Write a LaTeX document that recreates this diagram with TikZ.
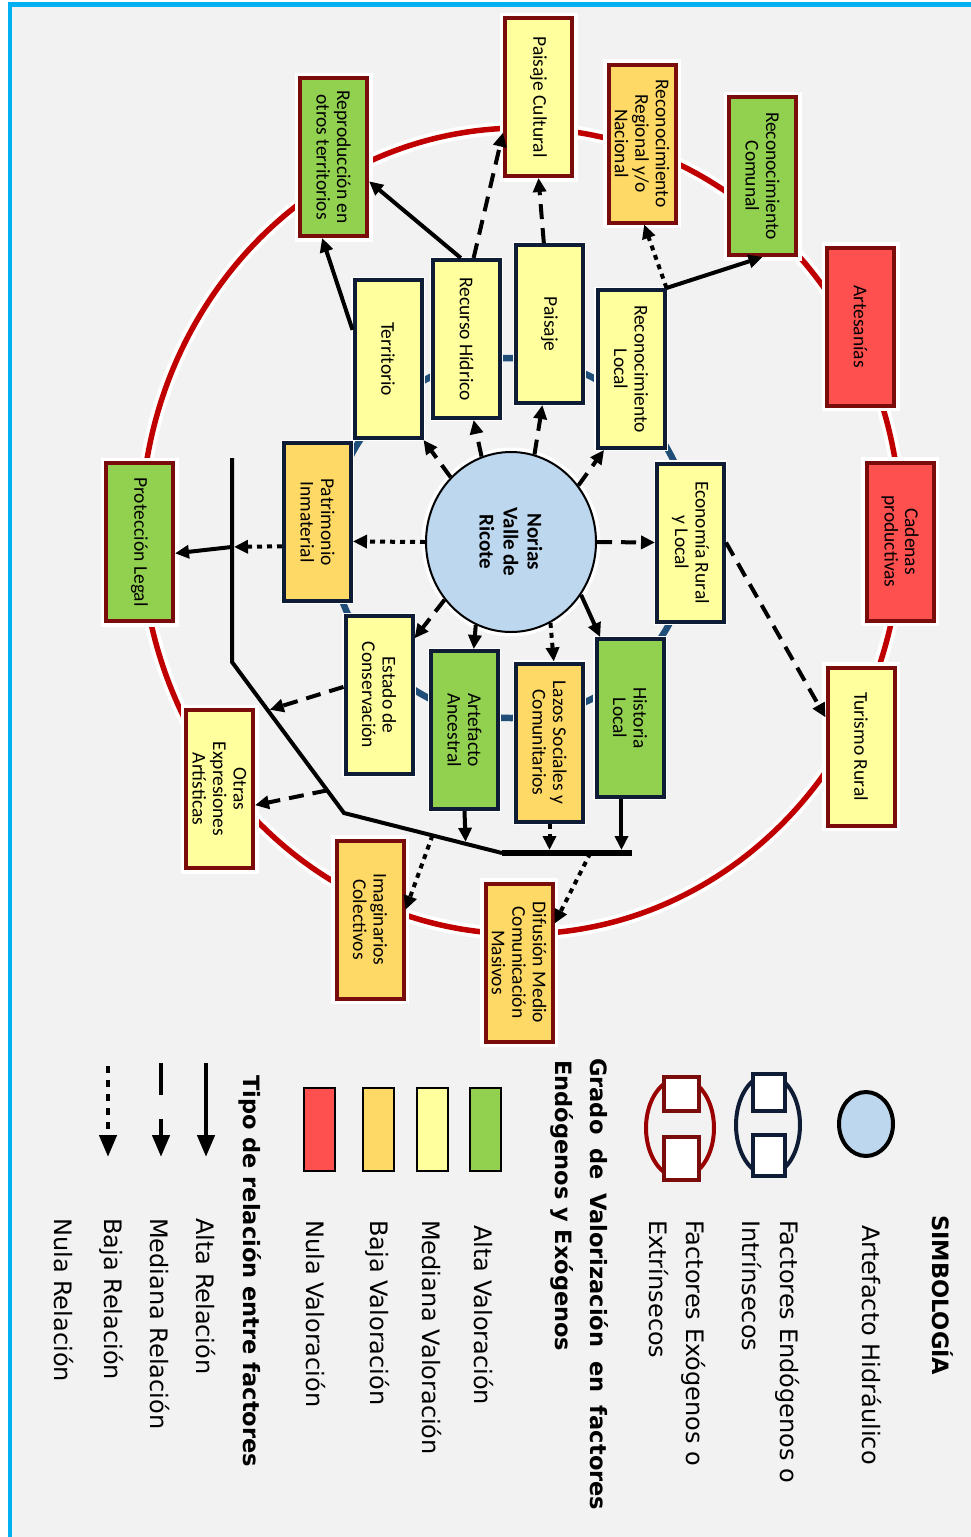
\documentclass[tikz,border=0pt]{standalone}
\usepackage{fontspec}
\setmainfont{DejaVu Sans}
\newfontfamily\cajafont{Carlito}
\usetikzlibrary{arrows.meta,positioning,calc,shapes.geometric}
\definecolor{ringRed}{HTML}{C00000}
\definecolor{boxMaroon}{HTML}{7A0C0C}
\definecolor{boxNavy}{HTML}{0F1C36}
\definecolor{ringNavy}{HTML}{1F4E79}
\definecolor{valAlta}{HTML}{92D050}
\definecolor{valMedia}{HTML}{FFFF9E}
\definecolor{valBaja}{HTML}{FFD966}
\definecolor{valNula}{HTML}{FF5050}
\definecolor{noriaBlue}{HTML}{BDD7EE}
\definecolor{frameBlue}{HTML}{00B0F0}
\definecolor{bgGray}{HTML}{F2F2F2}

\begin{document}
\begin{tikzpicture}[x=1pt,y=-1pt,
    factor/.style={rectangle, rotate=-90, minimum width=158pt, minimum height=67pt,
      inner sep=1pt, align=center, line width=4pt,
      font=\cajafont\fontsize{19.5}{20.5}\selectfont},
    endo/.style={factor, draw=boxNavy, preaction={draw=white, line width=6.5pt}},
    exo/.style={factor, draw=boxMaroon, preaction={draw=white, line width=11pt}},
    alta/.style={line width=4pt, -{Triangle[length=14pt,width=13pt]}},
    mediana/.style={alta, dash pattern=on 15pt off 9pt},
    baja/.style={alta, dash pattern=on 5pt off 5pt},
    leyenda/.style={rotate=-90, anchor=base west, inner sep=0pt,
      font=\fontsize{24}{28}\selectfont},
    leyendab/.style={leyenda, font=\bfseries\fontsize{22.5}{27}\selectfont},
    leyflecha/.style={line width=4.5pt, -{Triangle[length=22pt,width=17pt]}}]
    \useasboundingbox (0,0) rectangle (971,1537);
    % fondo y marco
    \fill[white] (0,0) rectangle (971,1537);
    \fill[bgGray] (10,4.5) rectangle (971,1537);
    \draw[frameBlue, line width=4.5pt] (10,1537) -- (10,4.5) -- (971,4.5);
    % anillo exterior (exogenos) y anillo interior (endogenos)
    \draw[white, line width=13pt] (521,531) ellipse [x radius=380pt, y radius=403pt];
    \draw[ringRed, line width=5.5pt] (521,531) ellipse [x radius=380pt, y radius=403pt];
    \draw[ringNavy, line width=6.5pt] (511,538) circle [radius=180pt];
    % artefacto hidraulico
    \node[ellipse, rotate=-90, draw, line width=2pt, fill=noriaBlue,
      minimum width=180pt, minimum height=170pt, align=center,
      font=\cajafont\bfseries\fontsize{21}{24}\selectfont,
      preaction={draw=white, line width=9pt}] (noria) at (511,542) {Norias\\Valle de\\Ricote};
    % factores endogenos
    \node[endo, fill=valMedia] (terr) at (388,359) {Territorio};
    \node[endo, fill=valMedia] (recurso) at (466.5,339) {Recurso Hídrico};
    \node[endo, fill=valMedia] (paisaje) at (549.5,324) {Paisaje};
    \node[endo, fill=valMedia] (reclocal) at (631,369) {Reconocimiento\\Local};
    \node[endo, fill=valMedia] (economia) at (690.5,542.5) {Economía Rural\\y Local};
    \node[endo, fill=valAlta] (historia) at (630,718) {Historia\\Local};
    \node[endo, fill=valBaja] (lazos) at (549.5,742.5) {Lazos Sociales y\\Comunitarios};
    \node[endo, fill=valAlta] (artefacto) at (464.5,730) {Artefacto\\Ancestral};
    \node[endo, fill=valMedia] (estado) at (379,695) {Estado de\\Conservación};
    \node[endo, fill=valBaja] (patrimonio) at (317.5,522) {Patrimonio\\Inmaterial};
    % factores exogenos
    \node[exo, fill=valAlta] (reproduccion) at (333.5,157) {Reproducción en\\otros territorios};
    \node[exo, fill=valMedia] (pcultural) at (538.5,97) {Paisaje Cultural};
    \node[exo, fill=valBaja] (recregional) at (642,143.5) {Reconocimiento\\Regional y/o\\Nacional};
    \node[exo, fill=valAlta] (reccomunal) at (762.5,176) {Reconocimiento\\Comunal};
    \node[exo, fill=valNula] (artesanias) at (860.5,326.5) {Artesanías};
    \node[exo, fill=valNula] (cadenas) at (900,541.5) {Cadenas\\productivas};
    \node[exo, fill=valMedia] (turismo) at (861,746.5) {Turismo Rural};
    \node[exo, fill=valBaja] (difusion) at (519,962.5) {Difusión Medio\\Comunicación\\Masivos};
    \node[exo, fill=valBaja] (imaginarios) at (370,919.5) {Imaginarios\\Colectivos};
    \node[exo, fill=valMedia] (otras) at (219.5,789) {Otras\\Expresiones\\Artísticas};
    \node[exo, fill=valAlta] (proteccion) at (139.5,542) {Protección Legal};
    % relaciones desde la noria
    \draw[mediana] (noria.223) -- (terr.north east);
    \draw[mediana] (noria.199) -- ($(recurso.south east)!0.6!(recurso.north east)$);
    \draw[mediana] (noria.165) -- ($(paisaje.south east)!0.4!(paisaje.north east)$);
    \draw[mediana] (noria.130) -- ($(reclocal.south east)!0.12!(reclocal.north east)$);
    \draw[mediana] (noria.90) -- (economia.south);
    \draw[alta] (noria.53) -- ($(historia.south west)!0.08!(historia.north west)$);
    \draw[baja] (noria.26) -- ($(lazos.south west)!0.56!(lazos.north west)$);
    \draw[alta] (noria.337) -- ($(artefacto.south west)!0.63!(artefacto.north west)$);
    \draw[mediana] (noria.311) -- ($(estado.north west)!0.15!(estado.north east)$);
    \draw[baja] (noria.270) -- ($(patrimonio.north west)!0.62!(patrimonio.north east)$);
    % relaciones hacia el anillo exterior
    \draw[alta] ($(terr.south west)!0.32!(terr.south east)$) -- ($(reproduccion.south east)!0.34!(reproduccion.north east)$);
    \draw[alta] ($(recurso.south west)!0.42!(recurso.north west)$) -- ($(reproduccion.north west)!0.65!(reproduccion.north east)$);
    \draw[mediana] ($(recurso.south west)!0.6!(recurso.north west)$) -- ($(pcultural.south west)!0.72!(pcultural.south east)$);
    \draw[mediana] ($(paisaje.south west)!0.42!(paisaje.north west)$) -- (pcultural.east);
    \draw[baja] (reclocal.north west) -- ($(recregional.south east)!0.53!(recregional.north east)$);
    \draw[alta] (reclocal.north west) -- (reccomunal.east);
    \draw[mediana] (economia.north) -- ($(turismo.south west)!0.32!(turismo.south east)$);
    % linea colectora
    \coordinate (busA) at (232,458);
    \coordinate (busB) at (232,662);
    \coordinate (busC) at (344,813);
    \coordinate (busD) at (502,853);
    \coordinate (busE) at (632,853);
    \draw[line width=4pt] (busA) -- (busB) -- (busC) -- (busD);
    \draw[line width=6pt] (busD) -- (busE);
    \coordinate (hisB) at ($(historia.south east)!0.38!(historia.north east)$);
    \draw[baja, shorten >=2pt] ($(patrimonio.south west)!0.65!(patrimonio.south east)$) -- ($(busA)!0.436!(busB)$);
    \draw[alta] ($(busA)!0.436!(busB)$) -- ($(proteccion.north west)!0.57!(proteccion.north east)$);
    \draw[mediana, shorten >=2pt] ($(estado.south west)!0.45!(estado.south east)$) -- ($(busB)!0.32!(busC)$);
    \draw[mediana] ($(busB)!0.85!(busC)$) -- ($(otras.north west)!0.6!(otras.north east)$);
    \draw[alta, shorten >=2pt] (artefacto.east) -- ($(busC)!0.77!(busD)$);
    \draw[baja, shorten >=3pt] (lazos.east) -- (lazos.east |- busD);
    \draw[alta, shorten >=3pt] (hisB) -- (hisB |- busD);
    \draw[baja] ($(busC)!0.56!(busD)$) -- ($(imaginarios.north west)!0.44!(imaginarios.north east)$);
    \draw[baja] ($(busD)!0.68!(busE)$) -- ($(difusion.north west)!0.26!(difusion.north east)$);
    % simbologia
    \node[leyendab] (simb) at (932,1215) {SIMBOLOGÍA};
    \node[ellipse, draw, line width=4pt, fill=noriaBlue, minimum width=54pt,
      minimum height=64pt] (leyNoria) at (866,1124) {};
    \node[leyenda] (leyArt) at (862,1225) {Artefacto Hidráulico};
    \draw[boxNavy, line width=4pt] (768,1125) ellipse [x radius=32pt, y radius=50pt];
    \draw[boxNavy, line width=4pt, fill=white] (753,1074) rectangle (785,1111);
    \draw[boxNavy, line width=4pt, fill=white] (753,1135) rectangle (785,1176);
    \node[leyenda] (leyEndo) at (780,1220) {Factores Endógenos o};
    \node[leyenda] (leyEndoB) at (742,1220) {Intrínsecos};
    \draw[ringRed!80!black, line width=4pt] (680,1128) ellipse [x radius=34pt, y radius=50pt];
    \draw[boxMaroon, line width=4pt, fill=white] (664,1077) rectangle (699,1111);
    \draw[boxMaroon, line width=4pt, fill=white] (664,1137) rectangle (699,1180);
    \node[leyenda] (leyExo) at (686,1220) {Factores Exógenos o};
    \node[leyenda] (leyExoB) at (649,1220) {Extrínsecos};
    \node[leyendab] (grado) at (590,1058) {\makebox[452pt][s]{Grado de Valorización en factores}};
    \node[leyendab] (gradoB) at (555,1060) {Endógenos y Exógenos};
    % grados de valoracion
    \draw[line width=2.5pt, fill=valAlta] (470,1088) rectangle (501,1171);
    \draw[line width=2.5pt, fill=valMedia] (417,1088) rectangle (448,1171);
    \draw[line width=2.5pt, fill=valBaja] (363,1088) rectangle (394,1171);
    \draw[line width=2.5pt, fill=valNula] (304,1088) rectangle (335,1171);
    \node[leyenda] (valA) at (474,1225) {Alta Valoración};
    \node[leyenda] (valM) at (422,1220) {Mediana Valoración};
    \node[leyenda] (valB) at (370,1220) {Baja Valoración};
    \node[leyenda] (valN) at (306,1220) {Nula Valoración};
    % tipos de relacion
    \node[leyendab] (tipo) at (243,1075) {Tipo de relación entre factores};
    \draw[leyflecha] (206,1063) -- (206,1157);
    \draw[leyflecha, dash pattern=on 32pt off 24pt] (161,1063) -- (161,1157);
    \draw[leyflecha, dash pattern=on 7pt off 7pt] (108,1066) -- (108,1157);
    \node[leyenda] (relA) at (196,1218) {Alta Relación};
    \node[leyenda] (relM) at (150,1218) {Mediana Relación};
    \node[leyenda] (relB) at (104,1218) {Baja Relación};
    \node[leyenda] (relN) at (54,1218) {Nula Relación};
  \end{tikzpicture}
\end{document}
